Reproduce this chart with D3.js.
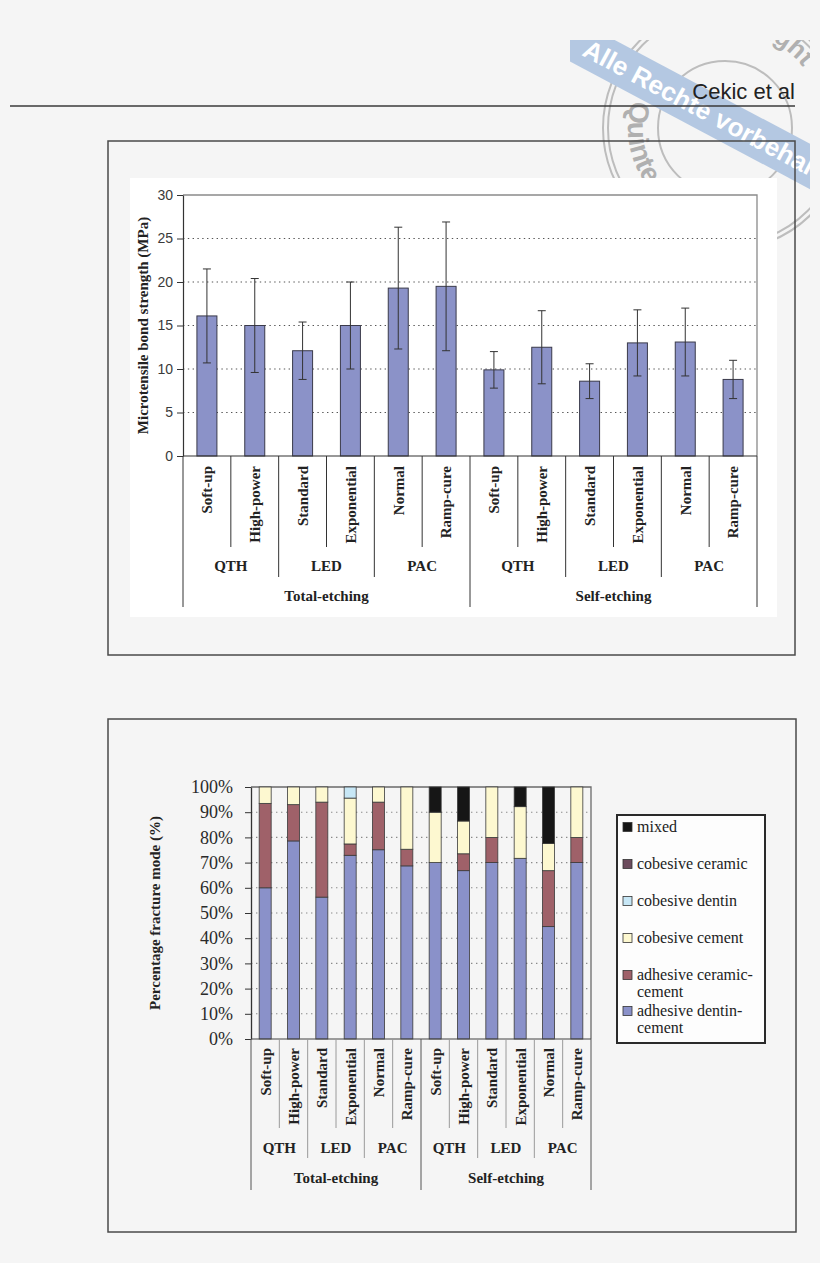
<!DOCTYPE html>
<html><head><meta charset="utf-8">
<script src="https://cdn.jsdelivr.net/npm/d3@7"></script>
<style>html,body{margin:0;padding:0;background:#f5f5f5;} svg{display:block;}</style>
</head><body>
<script>
// ---------- data ----------
const subCategories = ["Soft-up","High-power","Standard","Exponential","Normal","Ramp-cure",
                       "Soft-up","High-power","Standard","Exponential","Normal","Ramp-cure"];
const lightGroups = ["QTH","LED","PAC","QTH","LED","PAC"];
const etchingGroups = ["Total-etching","Self-etching"];

const bondStrength = [16.1,15.0,12.1,15.0,19.3,19.5, 9.9,12.5,8.6,13.0,13.1,8.8];
const bondSD       = [5.4, 5.4, 3.3, 5.0, 7.0, 7.4,  2.1, 4.2,2.0, 3.8, 3.9,2.2];
const strengthTicks = [0,5,10,15,20,25,30];
const strengthTitle = "Microtensile bond strength (MPa)";

const adhesiveDentinCement  = [60,78.6,56.3,72.9,75.1,68.7, 70,66.8,70,71.7,44.6,70];
const adhesiveCeramicCement = [33.5,14.4,37.7,4.5,18.9,6.6, 0,6.7,10,0,22.2,10];
const cohesiveCement        = [6.5,7,6,18.2,6,24.7, 20,13,20,20.5,10.8,20];
const cohesiveDentin        = [0,0,0,4.4,0,0, 0,0,0,0,0,0];
const cohesiveCeramic       = [0,0,0,0,0,0, 0,0,0,0,0,0];
const mixed                 = [0,0,0,0,0,0, 10,13.5,0,7.8,22.4,0];
const percentTicks = [0,10,20,30,40,50,60,70,80,90,100];
const fractureTitle = "Percentage fracture mode (%)";

const modeKeys = ["adhDentin","adhCeramic","cohCement","cohDentin","cohCeramic","mixed"];
const modeColors = ["#8a91c9","#9f6169","#fdf8d0","#c7e7f6","#6c4b5d","#161616"];
const legendLabels = [["mixed"],["cobesive ceramic"],["cobesive dentin"],["cobesive cement"],
                      ["adhesive ceramic-","cement"],["adhesive dentin-","cement"]];
const headerText = "Cekic et al";

// ---------- svg ----------
const W = 820, H = 1263;
const svg = d3.select("body").append("svg").attr("width",W).attr("height",H);
svg.append("rect").attr("width",W).attr("height",H).attr("fill","#f5f5f5");
const defs = svg.append("defs");
const serif = "'Liberation Serif','Times New Roman',serif";
const sans = "'Liberation Sans',Arial,sans-serif";

// ---------- watermark stamp ----------
defs.append("clipPath").attr("id","stampClip").append("rect")
  .attr("x",570).attr("y",40).attr("width",240).attr("height",220);
const stamp = svg.append("g").attr("clip-path","url(#stampClip)");
const cx = 725, cy = 128;
[122,117,67].forEach(r => stamp.append("circle").attr("cx",cx).attr("cy",cy).attr("r",r)
  .attr("fill","none").attr("stroke","#bdbdbd").attr("stroke-width",2));
function arcPath(r,a0,a1,sweep){
  const rad = a => a*Math.PI/180;
  const p0 = [cx+r*Math.cos(rad(a0)), cy+r*Math.sin(rad(a0))];
  const p1 = [cx+r*Math.cos(rad(a1)), cy+r*Math.sin(rad(a1))];
  const large = Math.abs(a1-a0) > 180 ? 1 : 0;
  return `M${p0[0]},${p0[1]} A${r},${r} 0 ${large} ${sweep} ${p1[0]},${p1[1]}`;
}
defs.append("path").attr("id","stampBottom").attr("d",arcPath(97,200,20,0));
defs.append("path").attr("id","stampTop").attr("d",arcPath(99,-200,-38,1));
stamp.append("text").attr("font-family",sans).attr("font-weight","bold").attr("font-size",28)
  .attr("fill","#b0b0b0").append("textPath").attr("href","#stampBottom").attr("startOffset","2%")
  .text("Quintessenz");
stamp.append("text").attr("font-family",sans).attr("font-weight","bold").attr("font-size",26)
  .attr("fill","#b0b0b0").attr("text-anchor","end").append("textPath").attr("href","#stampTop")
  .attr("startOffset","100%").text("Copyright");
const band = stamp.append("g").attr("transform","translate(700,108) rotate(28)");
band.append("rect").attr("x",-260).attr("y",-20).attr("width",520).attr("height",40).attr("fill","#b4c8e2");
band.append("text").attr("x",-130).attr("y",9).attr("font-family",sans).attr("font-weight","bold")
  .attr("font-size",26).attr("fill","#ffffff").text("Alle Rechte vorbehalten");

// ---------- header ----------
svg.append("line").attr("x1",10).attr("x2",795).attr("y1",106).attr("y2",106)
  .attr("stroke","#3a3a3a").attr("stroke-width",1.6);
svg.append("text").attr("x",795).attr("y",99).attr("text-anchor","end")
  .attr("font-family",sans).attr("font-size",22).attr("fill","#222").text(headerText);

// ---------- shared x-axis hierarchy ----------
function drawHierarchy(g, x, yBase, o){
  const bw = x.bandwidth();
  const x0 = x.range()[0];
  d3.range(13).forEach(i => {
    const len = i % 6 === 0 ? o.l3 : (i % 2 === 0 ? o.l2 : o.l1);
    g.append("line").attr("x1",x0+i*bw).attr("x2",x0+i*bw).attr("y1",yBase).attr("y2",yBase+len)
      .attr("stroke", i % 6 === 0 ? o.c3 : o.c1).attr("stroke-width", 1);
  });
  g.selectAll(".cat").data(subCategories).join("text").attr("class","cat")
    .attr("transform",(d,i)=>`translate(${x(i)+bw/2},${yBase+o.catOff}) rotate(-90)`)
    .attr("text-anchor","end").attr("dy","0.36em")
    .attr("font-family",serif).attr("font-weight","bold").attr("font-size",o.fs).attr("fill","#222")
    .text(d=>d);
  g.selectAll(".grp").data(lightGroups).join("text").attr("class","grp")
    .attr("x",(d,i)=>x0+(2*i+1)*bw).attr("y",yBase+o.grpY).attr("text-anchor","middle")
    .attr("font-family",serif).attr("font-weight","bold").attr("font-size",o.fs).attr("fill","#222")
    .text(d=>d);
  g.selectAll(".etch").data(etchingGroups).join("text").attr("class","etch")
    .attr("x",(d,i)=>x0+(6*i+3)*bw).attr("y",yBase+o.etchY).attr("text-anchor","middle")
    .attr("font-family",serif).attr("font-weight","bold").attr("font-size",o.fs).attr("fill","#222")
    .text(d=>d);
}

// ---------- chart 1 ----------
svg.append("rect").attr("x",108).attr("y",141).attr("width",687).attr("height",514)
  .attr("fill","none").attr("stroke","#4a4a4a").attr("stroke-width",1.5);
svg.append("rect").attr("x",130).attr("y",178).attr("width",647).attr("height",439).attr("fill","#ffffff");

const g1 = svg.append("g");
const x1 = d3.scaleBand().domain(d3.range(12)).range([183,757]);
const y1 = d3.scaleLinear().domain([0,30]).range([456,195]);
g1.selectAll(".grid").data(strengthTicks.filter(t=>t>0&&t<30)).join("line")
  .attr("x1",183).attr("x2",757).attr("y1",d=>y1(d)).attr("y2",d=>y1(d))
  .attr("stroke","#555").attr("stroke-width",1.1).attr("stroke-dasharray","1.4,3.4");
g1.append("path").attr("d",`M183,${y1(30)}H757V${y1(0)}`).attr("fill","none")
  .attr("stroke","#8a8a8a").attr("stroke-width",1.3);
const bw1 = 20;
g1.selectAll(".bar").data(bondStrength).join("rect")
  .attr("x",(d,i)=>x1(i)+(x1.bandwidth()-bw1)/2).attr("width",bw1)
  .attr("y",d=>y1(d)).attr("height",d=>y1(0)-y1(d))
  .attr("fill","#8b92c8").attr("stroke","#3a3a4a").attr("stroke-width",1);
const eb = g1.selectAll(".eb").data(bondStrength).join("g")
  .attr("transform",(d,i)=>`translate(${x1(i)+x1.bandwidth()/2},0)`);
eb.append("line").attr("y1",(d,i)=>y1(d-bondSD[i])).attr("y2",(d,i)=>y1(d+bondSD[i]))
  .attr("stroke","#333").attr("stroke-width",1);
eb.append("line").attr("x1",-4).attr("x2",4).attr("y1",(d,i)=>y1(d+bondSD[i])).attr("y2",(d,i)=>y1(d+bondSD[i]))
  .attr("stroke","#333").attr("stroke-width",1);
eb.append("line").attr("x1",-4).attr("x2",4).attr("y1",(d,i)=>y1(d-bondSD[i])).attr("y2",(d,i)=>y1(d-bondSD[i]))
  .attr("stroke","#333").attr("stroke-width",1);
const ax1 = g1.append("g").attr("transform","translate(183,0)")
  .call(d3.axisLeft(y1).tickValues(strengthTicks).tickSize(6).tickPadding(4).tickSizeOuter(0));
ax1.select(".domain").attr("stroke","#333").attr("stroke-width",1.2);
ax1.selectAll(".tick line").attr("stroke","#333");
ax1.selectAll("text").attr("font-family",sans).attr("font-size",14).attr("fill","#3a3a3a");
g1.append("line").attr("x1",183).attr("x2",757).attr("y1",456).attr("y2",456).attr("stroke","#333").attr("stroke-width",1.2);
drawHierarchy(g1, x1, 456, {l1:91,l2:121,l3:151,c1:"#333",c3:"#333",catOff:10,grpY:115,etchY:145,fs:15});
g1.append("text").attr("transform",`translate(143,${(y1(0)+y1(30))/2}) rotate(-90)`)
  .attr("text-anchor","middle").attr("dy","0.35em").attr("font-family",serif).attr("font-weight","bold")
  .attr("font-size",15).attr("fill","#222").text(strengthTitle);

// ---------- chart 2 ----------
svg.append("rect").attr("x",108).attr("y",719).attr("width",688).attr("height",513)
  .attr("fill","none").attr("stroke","#4a4a4a").attr("stroke-width",1.5);
const g2 = svg.append("g");
const x2 = d3.scaleBand().domain(d3.range(12)).range([251,591]);
const y2 = d3.scaleLinear().domain([0,100]).range([1039,787]);
g2.selectAll(".grid").data(percentTicks.filter(t=>t>0&&t<100)).join("line")
  .attr("x1",251).attr("x2",591).attr("y1",d=>y2(d)).attr("y2",d=>y2(d))
  .attr("stroke","#8a8a8a").attr("stroke-width",1.1).attr("stroke-dasharray","1.4,3.6");
g2.append("path").attr("d",`M251,${y2(100)}H591V${y2(0)}`).attr("fill","none")
  .attr("stroke","#6a6a6a").attr("stroke-width",1.3);
const rows = d3.range(12).map(i => ({
  adhDentin: adhesiveDentinCement[i], adhCeramic: adhesiveCeramicCement[i], cohCement: cohesiveCement[i],
  cohDentin: cohesiveDentin[i], cohCeramic: cohesiveCeramic[i], mixed: mixed[i], idx: i }));
const stacked = d3.stack().keys(modeKeys)(rows);
const bw2 = 12;
stacked.forEach((layer, k) => {
  g2.append("g").selectAll("rect").data(layer.filter(d => d[1]-d[0] > 0)).join("rect")
    .attr("x", d => x2(d.data.idx)+(x2.bandwidth()-bw2)/2).attr("width",bw2)
    .attr("y", d => y2(d[1])).attr("height", d => y2(d[0])-y2(d[1]))
    .attr("fill", modeColors[k]).attr("stroke","#3a3a3a").attr("stroke-width",0.8);
});
const ax2 = g2.append("g").attr("transform","translate(251,0)")
  .call(d3.axisLeft(y2).tickValues(percentTicks).tickFormat(d=>d+"%").tickSize(6).tickPadding(12).tickSizeOuter(0));
ax2.select(".domain").attr("stroke","#333").attr("stroke-width",1.3);
ax2.selectAll(".tick line").attr("stroke","#333");
ax2.selectAll("text").attr("font-family",serif).attr("font-size",18).attr("fill","#2a2a2a");
g2.append("line").attr("x1",251).attr("x2",591).attr("y1",1039).attr("y2",1039).attr("stroke","#444").attr("stroke-width",1.2);
drawHierarchy(g2, x2, 1039, {l1:89,l2:119,l3:151,c1:"#9a9a9a",c3:"#555",catOff:9,grpY:114,etchY:144,fs:15});
g2.append("text").attr("transform",`translate(155,${(y2(0)+y2(100))/2}) rotate(-90)`)
  .attr("text-anchor","middle").attr("dy","0.35em").attr("font-family",serif).attr("font-weight","bold")
  .attr("font-size",15).attr("fill","#222").text(fractureTitle);

// legend
const lg = svg.append("g");
lg.append("rect").attr("x",617).attr("y",815).attr("width",148).attr("height",228)
  .attr("fill","#fdfdfd").attr("stroke","#2a2a2a").attr("stroke-width",2);
const legendY = [827,864,901,938,975,1011];
const legendColors = modeColors.slice().reverse();
legendLabels.forEach((lines, i) => {
  lg.append("rect").attr("x",623).attr("y",legendY[i]-4.5).attr("width",9).attr("height",9)
    .attr("fill",legendColors[i]).attr("stroke","#333").attr("stroke-width",0.8);
  lines.forEach((t, j) => {
    lg.append("text").attr("x",637).attr("y",legendY[i]+j*17).attr("dy","0.32em")
      .attr("font-family",serif).attr("font-size",16).attr("fill","#222").text(t);
  });
});
</script>
</body></html>
